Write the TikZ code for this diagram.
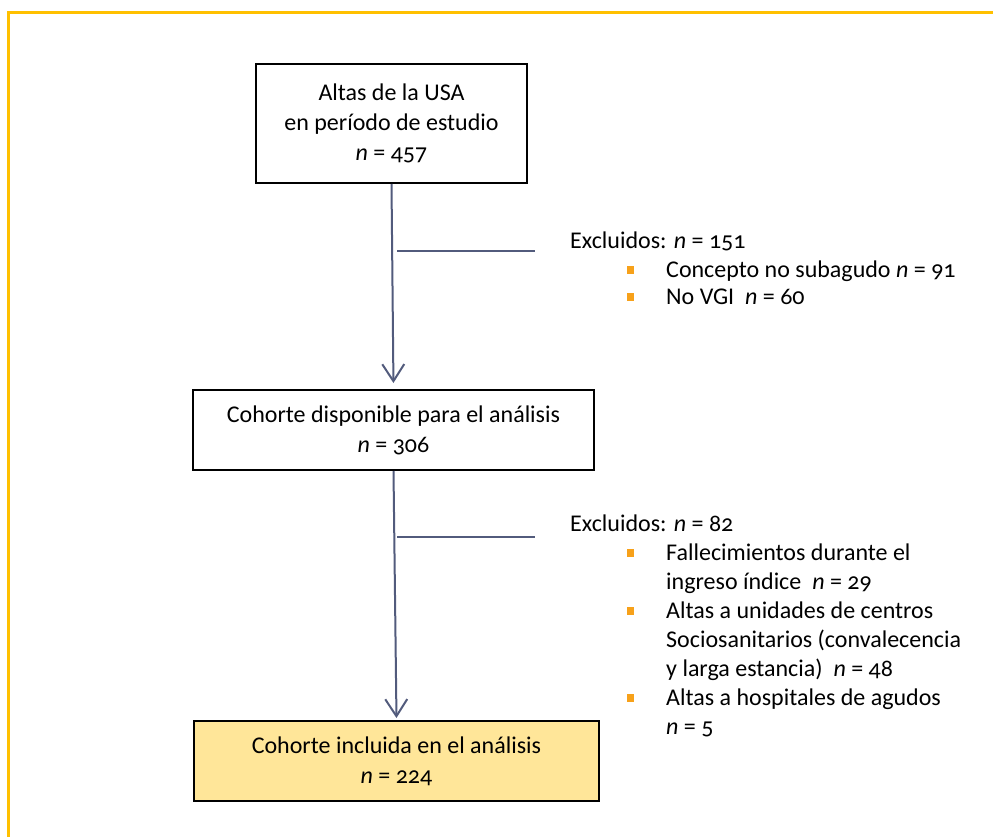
\documentclass[tikz,border=0pt]{standalone}
\usepackage{fontspec}
\setmainfont{Carlito}[Numbers=OldStyle]
\usetikzlibrary{arrows.meta}
\definecolor{framegold}{HTML}{FFC000}
\definecolor{fillgold}{HTML}{FFE699}
\definecolor{arrowc}{HTML}{525B7C}
\definecolor{bulletc}{HTML}{F7A11A}
\begin{document}
\begin{tikzpicture}[x=1pt,y=-1pt,
 box/.style={draw=black, line width=2pt, align=center, font=\fontsize{24}{30}\selectfont, inner sep=0pt},
 txt/.style={anchor=base west, inner sep=0pt, font=\fontsize{24}{29}\selectfont},
 bul/.style={fill=bulletc, minimum size=7.5pt, inner sep=0pt},
 conn/.style={draw=arrowc, line width=2pt},
 arr/.style={conn, -{Straight Barb[length=17pt,width=22pt,line width=2pt]}}]
\useasboundingbox (0,0) rectangle (993,837);
\draw[framegold, line width=3.2pt] (8.5,840) -- (8.5,12.5) -- (996,12.5);
\node[box, minimum width=271pt, minimum height=119pt] (b1) at (391.5,123.5) {Altas de la USA\\en período de estudio\\\textit{n} = 457};
\node[box, minimum width=401pt, minimum height=80pt] (b2) at (393.5,430) {Cohorte disponible para el análisis\\\textit{n} = 306};
\node[box, fill=fillgold, minimum width=405pt, minimum height=80pt] (b3) at (396.5,761) {Cohorte incluida en el análisis\\\textit{n} = 224};
\draw[arr, shorten >=6pt] (b1.south) -- (b2.north);
\draw[arr, shorten >=2pt] (b2.south) -- (b3.north);
\coordinate (j1) at (397,251);
\coordinate (e1) at (535,251);
\coordinate (j2) at (397,537);
\coordinate (e2) at (535,537);
\draw[conn] (j1) -- (e1);
\draw[conn] (j2) -- (e2);
% first exclusion
\node[txt] (x1) at (570,248) {Excluidos: \textit{n} = 151};
\node[bul] (p1) at (630.5,270) {};
\node[txt] (t1) at (666,277) {Concepto no subagudo \textit{n} = 91};
\node[bul] (p2) at (630.5,297) {};
\node[txt] (t2) at (666,304) {No VGI~~\textit{n} = 60};
% second exclusion
\node[txt] (x2) at (570,531) {Excluidos: \textit{n} = 82};
\node[bul] (q1) at (630.5,553) {};
\node[txt] (s1) at (666,560) {Fallecimientos durante el};
\node[txt] (s2) at (666,589) {ingreso índice~~\textit{n} = 29};
\node[bul] (q2) at (630.5,611) {};
\node[txt] (s3) at (666,618) {Altas a unidades de centros};
\node[txt] (s4) at (666,647) {Sociosanitarios (convalecencia};
\node[txt] (s5) at (666,676) {y larga estancia)~~\textit{n} = 48};
\node[bul] (q3) at (630.5,698) {};
\node[txt] (s6) at (666,705) {Altas a hospitales de agudos};
\node[txt] (s7) at (666,734) {\textit{n} = 5};
\end{tikzpicture}
\end{document}
